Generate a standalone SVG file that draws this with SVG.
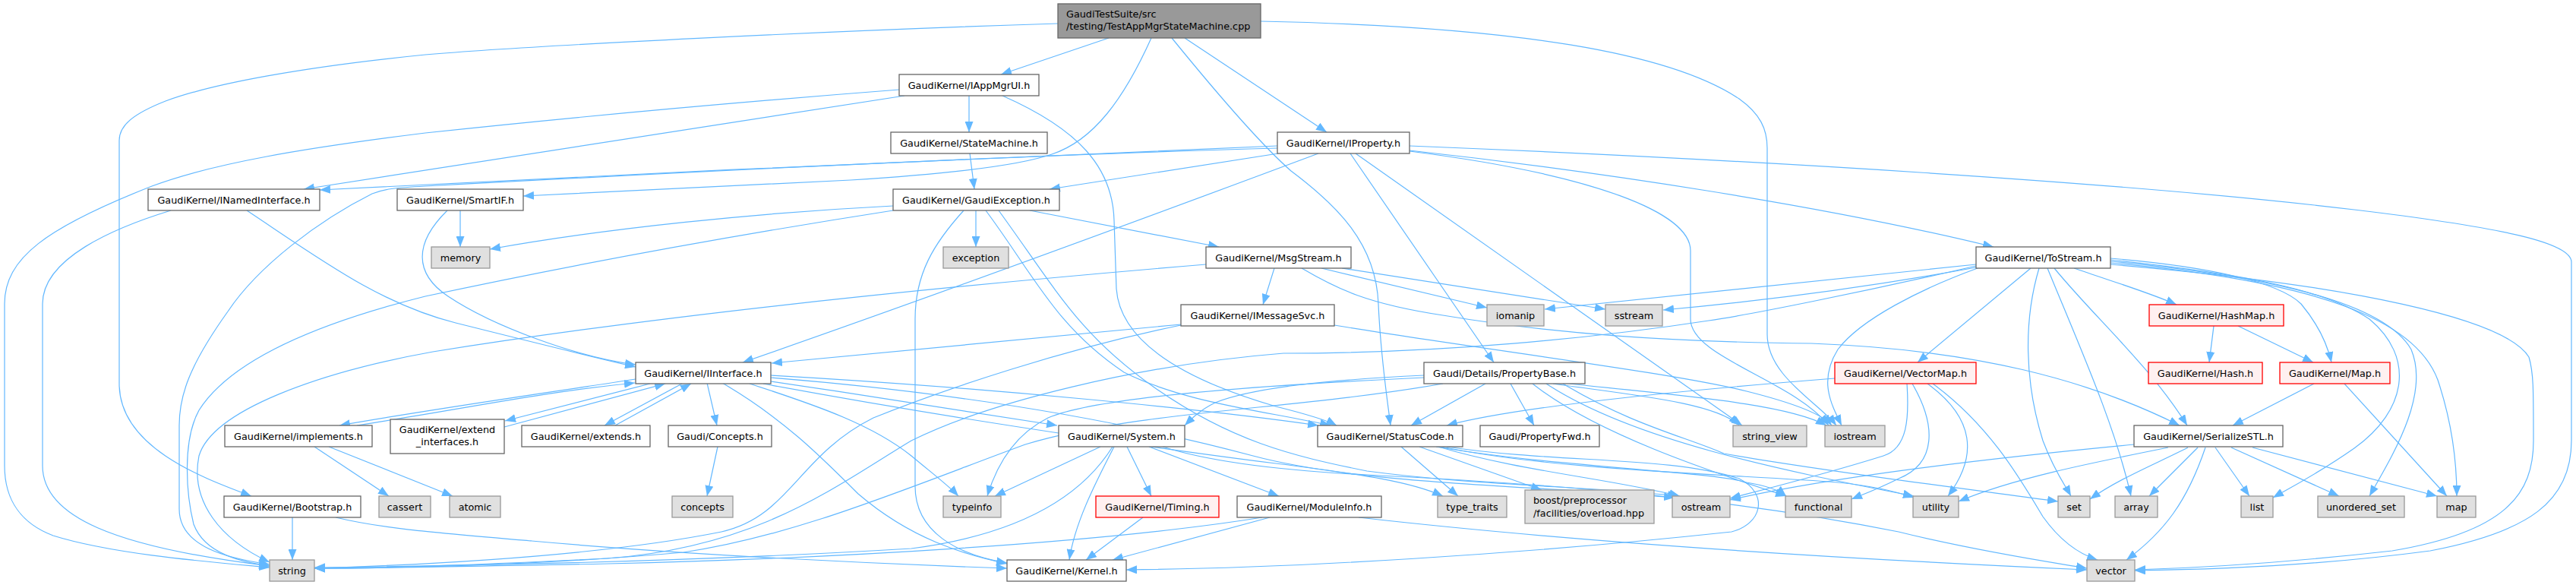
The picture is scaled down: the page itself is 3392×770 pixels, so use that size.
<svg xmlns="http://www.w3.org/2000/svg" width="3392" height="770" viewBox="0 0 3392 770">
<style>
.e{fill:none;stroke:#63b8ff;stroke-width:1.2;marker-end:url(#ah)}
.n rect{fill:#ffffff;stroke:#666666;stroke-width:1.3}
.x rect{fill:#e0e0e0;stroke:#999999;stroke-width:1.3}
.r rect{fill:#fff0f0;stroke:#ff0000;stroke-width:1.3}
.t rect{fill:#999999;stroke:#666666;stroke-width:1.3}
text{font-family:"DejaVu Sans","Liberation Sans",sans-serif;font-size:12.8px;fill:#000000}
.c{text-anchor:middle}
</style>
<defs>
<marker id="ah" viewBox="0 0 14 11" refX="14" refY="5.5" markerWidth="14" markerHeight="11" orient="auto" markerUnits="userSpaceOnUse"><path d="M0,0 L14,5.5 L0,11 z" fill="#63b8ff"/></marker>
</defs>
<rect x="0" y="0" width="3392" height="770" fill="#ffffff"/>
<g id="edges">
<path class="e" d="M1393,31 C1100,40 700,60 560,72 C400,88 280,110 218,133 C175,150 157,165 157,185 L157,505 C157,590 270,630 331,653"/>
<path class="e" d="M1460,50 L1318,98"/>
<path class="e" d="M1560,50 L1747,174"/>
<path class="e" d="M1516,50 C1480,130 1440,185 1385,203 C1330,222 1200,232 1120,237 L689,258"/>
<path class="e" d="M1543,50 C1600,120 1660,190 1700,225 C1760,270 1812,320 1815,400 C1818,470 1826,520 1831,560"/>
<path class="e" d="M1660,28 C2000,35 2200,70 2290,130 C2318,150 2327,170 2327,195 L2327,440 C2327,495 2395,530 2418,560"/>
<path class="e" d="M1191,126 L400,249"/>
<path class="e" d="M1276,126 L1276,174"/>
<path class="e" d="M1320,126 C1420,170 1465,220 1467,290 L1470,380 C1475,450 1560,500 1680,535 C1720,545 1745,552 1760,560"/>
<path class="e" d="M1184,118 C900,140 700,160 560,175 C400,195 280,215 200,245 C60,300 6,340 6,400 L6,613 C6,660 30,690 70,705 C150,730 280,740 355,747"/>
<path class="e" d="M1277,202 L1283,249"/>
<path class="e" d="M1682,192 C1400,203 800,230 421,250"/>
<path class="e" d="M1683,202 L1382,249"/>
<path class="e" d="M1736,202 C1500,290 1200,400 978,477"/>
<path class="e" d="M1778,202 L1967,477"/>
<path class="e" d="M1856,198 C2100,225 2400,270 2625,325"/>
<path class="e" d="M1682,195 C1300,205 800,232 560,245 C520,247 505,249 490,255 C420,290 340,350 300,410 C250,480 236,520 236,560 L236,670 C236,720 300,735 355,743"/>
<path class="e" d="M1856,192 C2300,210 2800,240 3100,276 C3300,300 3386,320 3386,345 L3386,580 C3386,660 3330,700 3200,725 C3050,745 2900,750 2811,751"/>
<path class="e" d="M1856,199 C2100,230 2226,280 2226,330 L2226,420 C2226,470 2360,500 2408,560"/>
<path class="e" d="M1785,202 L2294,560"/>
<path class="e" d="M325,277 C420,340 500,400 600,425 C700,450 780,470 837,483"/>
<path class="e" d="M225,277 C150,300 56,340 56,400 L56,613 C56,680 150,720 355,745"/>
<path class="e" d="M589,277 C545,320 545,360 590,390 C650,430 760,470 837,480"/>
<path class="e" d="M606,277 L606,325"/>
<path class="e" d="M1269,277 C1230,320 1205,360 1205,420 L1205,640 C1205,700 1260,730 1326,741"/>
<path class="e" d="M1356,277 L1605,325"/>
<path class="e" d="M1298,277 C1360,360 1390,430 1480,490 C1560,530 1660,540 1752,560"/>
<path class="e" d="M1315,277 C1390,380 1420,440 1520,510 C1620,580 1700,600 1800,620 C1950,640 2100,640 2210,653"/>
<path class="e" d="M1285,277 L1285,325"/>
<path class="e" d="M1176,271 C1000,280 800,300 645,328"/>
<path class="e" d="M1176,277 C900,320 700,360 560,390 C400,430 300,480 262,540 C240,580 245,650 255,690 C270,730 320,740 355,745"/>
<path class="e" d="M1678,353 L1663,401"/>
<path class="e" d="M1714,353 C1760,380 1800,400 1900,415 C2050,440 2200,450 2385,452 C2600,460 2750,500 2870,560"/>
<path class="e" d="M1740,353 L1958,405"/>
<path class="e" d="M1767,353 L2114,407"/>
<path class="e" d="M1588,348 C1300,372 900,410 570,463 C420,490 280,540 262,600 C250,660 290,710 355,740"/>
<path class="e" d="M1555,427 L1016,478"/>
<path class="e" d="M1757,428 C1950,460 2200,490 2300,515 C2360,530 2400,545 2412,560"/>
<path class="e" d="M1555,428 C1400,460 1250,510 1150,550 C1050,600 1040,680 950,700 C800,730 600,742 414,748"/>
<path class="e" d="M931,504 L944,560"/>
<path class="e" d="M951,504 C1030,550 1080,600 1130,650 C1200,710 1270,730 1326,742"/>
<path class="e" d="M1015,494 C1300,510 1600,540 1736,560"/>
<path class="e" d="M1015,502 C1150,522 1300,545 1392,560"/>
<path class="e" d="M856,505 L665,554"/>
<path class="e" d="M898,505 L796,560"/>
<path class="e" d="M837,499 C700,520 560,540 447,560"/>
<path class="e" d="M1015,497 C1300,520 1500,560 1650,600 C1800,640 2050,640 2205,655"/>
<path class="e" d="M1005,505 C1300,560 1600,600 1680,610 C1800,625 1860,635 1900,653"/>
<path class="e" d="M987,505 C1080,535 1150,560 1200,600 C1230,625 1250,640 1262,653"/>
<path class="e" d="M470,560 C600,540 720,515 836,504"/>
<path class="e" d="M414,588 L512,653"/>
<path class="e" d="M433,588 L596,653"/>
<path class="e" d="M664,562 L876,505"/>
<path class="e" d="M810,560 L910,505"/>
<path class="e" d="M945,588 L931,653"/>
<path class="e" d="M1467,588 C1440,640 1415,690 1408,737"/>
<path class="e" d="M1513,588 L1684,653"/>
<path class="e" d="M1484,588 L1516,653"/>
<path class="e" d="M1465,588 C1420,660 1330,705 1200,722 C900,740 600,745 414,747"/>
<path class="e" d="M1449,588 L1310,653"/>
<path class="e" d="M1531,588 C1600,610 1700,620 1800,625 C2100,640 2300,660 2500,700 C2600,725 2700,740 2748,748"/>
<path class="e" d="M1505,681 L1430,737"/>
<path class="e" d="M1672,681 L1465,737"/>
<path class="e" d="M1662,681 C1450,715 1100,735 800,742 C600,746 500,748 414,748"/>
<path class="e" d="M1789,681 C2000,705 2300,730 2748,750"/>
<path class="e" d="M385,681 L385,737"/>
<path class="e" d="M442,681 C500,695 560,700 700,712 C900,730 1150,742 1326,748"/>
<path class="e" d="M1989,505 L2020,560"/>
<path class="e" d="M1956,505 L1858,560"/>
<path class="e" d="M1875,494 C1750,500 1650,510 1600,530 C1580,540 1570,550 1560,560"/>
<path class="e" d="M1875,497 C1700,505 1450,520 1380,550 C1330,575 1310,620 1300,653"/>
<path class="e" d="M1900,505 C1700,540 1500,540 1350,585 C1200,640 1050,705 900,727 C700,745 500,748 414,748"/>
<path class="e" d="M2045,505 C2150,520 2260,530 2290,560"/>
<path class="e" d="M2067,505 C2200,520 2350,530 2405,560"/>
<path class="e" d="M2018,505 C2100,570 2250,620 2352,653"/>
<path class="e" d="M2036,505 C2150,580 2350,620 2520,653"/>
<path class="e" d="M2058,505 C2150,560 2220,575 2270,597 C2400,620 2600,645 2710,660"/>
<path class="e" d="M1845,588 L1920,653"/>
<path class="e" d="M1869,588 L2030,645"/>
<path class="e" d="M1894,588 C2000,620 2120,630 2212,653"/>
<path class="e" d="M1891,588 C2050,615 2250,620 2300,635 C2330,640 2345,647 2352,653"/>
<path class="e" d="M1898,588 C2050,620 2300,625 2420,635 C2470,640 2500,648 2520,655"/>
<path class="e" d="M1905,588 C2050,610 2200,600 2290,630 C2330,650 2320,690 2280,700 C2000,730 1700,748 1483,750"/>
<path class="e" d="M2416,498 C2200,515 2000,535 1905,560"/>
<path class="e" d="M2511,505 C2514,550 2512,590 2480,600 C2400,625 2320,645 2278,656"/>
<path class="e" d="M2518,505 C2550,560 2550,610 2500,630 C2470,645 2450,652 2438,657"/>
<path class="e" d="M2538,505 C2600,550 2605,600 2565,653"/>
<path class="e" d="M2545,505 C2620,560 2660,630 2690,680 C2715,715 2740,730 2762,737"/>
<path class="e" d="M2731,353 C2780,370 2830,385 2866,401"/>
<path class="e" d="M2779,340 C2900,350 3000,370 3030,400 C3055,430 3065,455 3070,477"/>
<path class="e" d="M2779,342 C2950,360 3060,380 3120,420 C3180,470 3170,540 3100,590 C3050,625 3010,645 2993,655"/>
<path class="e" d="M2779,344 C3000,365 3140,400 3175,460 C3200,520 3150,600 3120,653"/>
<path class="e" d="M2779,346 C3050,370 3180,420 3210,500 C3230,560 3235,610 3235,653"/>
<path class="e" d="M2779,348 C3100,375 3300,420 3330,470 C3336,490 3336,510 3336,580 C3336,650 3300,700 3150,725 C3000,742 2880,748 2811,750"/>
<path class="e" d="M2674,353 L2525,477"/>
<path class="e" d="M2685,353 C2665,420 2665,500 2690,580 C2705,620 2720,640 2727,653"/>
<path class="e" d="M2696,353 C2740,460 2785,560 2806,653"/>
<path class="e" d="M2705,353 C2760,420 2830,480 2880,560"/>
<path class="e" d="M2602,348 C2400,370 2200,388 2034,407"/>
<path class="e" d="M2602,352 C2450,380 2300,398 2190,408"/>
<path class="e" d="M2604,353 C2530,380 2450,420 2420,460 C2395,500 2410,530 2425,560"/>
<path class="e" d="M2602,350 C2450,385 2300,415 2250,422 C2100,445 1900,465 1690,465 C1500,480 1300,530 1200,580 C1100,640 1000,720 800,735 C600,745 500,748 414,748"/>
<path class="e" d="M2915,429 L2909,477"/>
<path class="e" d="M2947,429 L3046,477"/>
<path class="e" d="M3047,505 L2940,560"/>
<path class="e" d="M3087,505 L3222,653"/>
<path class="e" d="M2810,585 C2600,605 2400,630 2278,658"/>
<path class="e" d="M2855,589 C2750,610 2650,630 2579,660"/>
<path class="e" d="M2881,589 C2840,610 2790,630 2752,657"/>
<path class="e" d="M2894,589 L2830,653"/>
<path class="e" d="M2904,589 C2880,660 2850,700 2800,737"/>
<path class="e" d="M2917,589 L2962,653"/>
<path class="e" d="M2938,589 L3080,653"/>
<path class="e" d="M2966,589 L3209,653"/>
</g>
<g id="root" class="t"><rect x="1393" y="5" width="267" height="45"/><text x="1404" y="23">GaudiTestSuite/src</text><text x="1404" y="39">/testing/TestAppMgrStateMachine.cpp</text></g>
<g id="IAppMgrUI" class="n"><rect x="1184" y="98" width="184" height="28"/><text class="c" x="1276" y="116.5">GaudiKernel/IAppMgrUI.h</text></g>
<g id="IProperty" class="n"><rect x="1682" y="174" width="174" height="28"/><text class="c" x="1769" y="192.5">GaudiKernel/IProperty.h</text></g>
<g id="StateMachine" class="n"><rect x="1173" y="174" width="206" height="28"/><text class="c" x="1276" y="192.5">GaudiKernel/StateMachine.h</text></g>
<g id="INamedInterface" class="n"><rect x="195" y="249" width="226" height="28"/><text class="c" x="308" y="267.5">GaudiKernel/INamedInterface.h</text></g>
<g id="SmartIF" class="n"><rect x="523" y="249" width="166" height="28"/><text class="c" x="606" y="267.5">GaudiKernel/SmartIF.h</text></g>
<g id="GaudiException" class="n"><rect x="1176" y="249" width="219" height="28"/><text class="c" x="1285.5" y="267.5">GaudiKernel/GaudiException.h</text></g>
<g id="memory" class="x"><rect x="568" y="325" width="77" height="28"/><text class="c" x="606.5" y="343.5">memory</text></g>
<g id="exception" class="x"><rect x="1242" y="325" width="86" height="28"/><text class="c" x="1285" y="343.5">exception</text></g>
<g id="MsgStream" class="n"><rect x="1588" y="325" width="191" height="28"/><text class="c" x="1683.5" y="343.5">GaudiKernel/MsgStream.h</text></g>
<g id="ToStream" class="n"><rect x="2602" y="325" width="177" height="28"/><text class="c" x="2690.5" y="343.5">GaudiKernel/ToStream.h</text></g>
<g id="IMessageSvc" class="n"><rect x="1555" y="401" width="202" height="28"/><text class="c" x="1656" y="419.5">GaudiKernel/IMessageSvc.h</text></g>
<g id="iomanip" class="x"><rect x="1958" y="401" width="75" height="28"/><text class="c" x="1995.5" y="419.5">iomanip</text></g>
<g id="sstream" class="x"><rect x="2114" y="401" width="75" height="28"/><text class="c" x="2151.5" y="419.5">sstream</text></g>
<g id="HashMap" class="r"><rect x="2830" y="401" width="177" height="28"/><text class="c" x="2918.5" y="419.5">GaudiKernel/HashMap.h</text></g>
<g id="IInterface" class="n"><rect x="837" y="477" width="178" height="28"/><text class="c" x="926" y="495.5">GaudiKernel/IInterface.h</text></g>
<g id="PropertyBase" class="n"><rect x="1875" y="477" width="212" height="28"/><text class="c" x="1981" y="495.5">Gaudi/Details/PropertyBase.h</text></g>
<g id="VectorMap" class="r"><rect x="2416" y="477" width="186" height="28"/><text class="c" x="2509" y="495.5">GaudiKernel/VectorMap.h</text></g>
<g id="Hash" class="r"><rect x="2829" y="477" width="150" height="28"/><text class="c" x="2904" y="495.5">GaudiKernel/Hash.h</text></g>
<g id="Map" class="r"><rect x="3002" y="477" width="145" height="28"/><text class="c" x="3074.5" y="495.5">GaudiKernel/Map.h</text></g>
<g id="implements" class="n"><rect x="296" y="560" width="194" height="28"/><text class="c" x="393" y="578.5">GaudiKernel/implements.h</text></g>
<g id="extend_interfaces" class="n"><rect x="514" y="552" width="150" height="45"/><text class="c" x="589" y="570">GaudiKernel/extend</text><text class="c" x="589" y="586">_interfaces.h</text></g>
<g id="extends" class="n"><rect x="687" y="560" width="169" height="28"/><text class="c" x="771.5" y="578.5">GaudiKernel/extends.h</text></g>
<g id="Concepts" class="n"><rect x="880" y="560" width="136" height="28"/><text class="c" x="948" y="578.5">Gaudi/Concepts.h</text></g>
<g id="System" class="n"><rect x="1394" y="560" width="166" height="28"/><text class="c" x="1477" y="578.5">GaudiKernel/System.h</text></g>
<g id="StatusCode" class="n"><rect x="1735" y="560" width="191" height="28"/><text class="c" x="1830.5" y="578.5">GaudiKernel/StatusCode.h</text></g>
<g id="PropertyFwd" class="n"><rect x="1949" y="560" width="157" height="28"/><text class="c" x="2027.5" y="578.5">Gaudi/PropertyFwd.h</text></g>
<g id="string_view" class="x"><rect x="2282" y="560" width="97" height="28"/><text class="c" x="2330.5" y="578.5">string_view</text></g>
<g id="iostream" class="x"><rect x="2403" y="560" width="79" height="28"/><text class="c" x="2442.5" y="578.5">iostream</text></g>
<g id="SerializeSTL" class="n"><rect x="2810" y="560" width="196" height="28"/><text class="c" x="2908" y="578.5">GaudiKernel/SerializeSTL.h</text></g>
<g id="Bootstrap" class="n"><rect x="295" y="653" width="180" height="28"/><text class="c" x="385" y="671.5">GaudiKernel/Bootstrap.h</text></g>
<g id="cassert" class="x"><rect x="499" y="653" width="68" height="28"/><text class="c" x="533" y="671.5">cassert</text></g>
<g id="atomic" class="x"><rect x="592" y="653" width="67" height="28"/><text class="c" x="625.5" y="671.5">atomic</text></g>
<g id="concepts" class="x"><rect x="885" y="653" width="80" height="28"/><text class="c" x="925" y="671.5">concepts</text></g>
<g id="typeinfo" class="x"><rect x="1242" y="653" width="76" height="28"/><text class="c" x="1280" y="671.5">typeinfo</text></g>
<g id="Timing" class="r"><rect x="1443" y="653" width="162" height="28"/><text class="c" x="1524" y="671.5">GaudiKernel/Timing.h</text></g>
<g id="ModuleInfo" class="n"><rect x="1629" y="653" width="190" height="28"/><text class="c" x="1724" y="671.5">GaudiKernel/ModuleInfo.h</text></g>
<g id="type_traits" class="x"><rect x="1893" y="653" width="91" height="28"/><text class="c" x="1938.5" y="671.5">type_traits</text></g>
<g id="boost" class="x"><rect x="2008" y="645" width="170" height="44"/><text x="2019" y="663">boost/preprocessor</text><text x="2019" y="680">/facilities/overload.hpp</text></g>
<g id="ostream" class="x"><rect x="2202" y="653" width="76" height="28"/><text class="c" x="2240" y="671.5">ostream</text></g>
<g id="functional" class="x"><rect x="2351" y="653" width="87" height="28"/><text class="c" x="2394.5" y="671.5">functional</text></g>
<g id="utility" class="x"><rect x="2519" y="653" width="60" height="28"/><text class="c" x="2549" y="671.5">utility</text></g>
<g id="set" class="x"><rect x="2710" y="653" width="42" height="28"/><text class="c" x="2731" y="671.5">set</text></g>
<g id="array" class="x"><rect x="2785" y="653" width="56" height="28"/><text class="c" x="2813" y="671.5">array</text></g>
<g id="list" class="x"><rect x="2951" y="653" width="42" height="28"/><text class="c" x="2972" y="671.5">list</text></g>
<g id="unordered_set" class="x"><rect x="3052" y="653" width="114" height="28"/><text class="c" x="3109" y="671.5">unordered_set</text></g>
<g id="map" class="x"><rect x="3209" y="653" width="51" height="28"/><text class="c" x="3234.5" y="671.5">map</text></g>
<g id="string" class="x"><rect x="355" y="737" width="59" height="28"/><text class="c" x="384.5" y="755.5">string</text></g>
<g id="Kernel" class="n"><rect x="1326" y="737" width="157" height="28"/><text class="c" x="1404.5" y="755.5">GaudiKernel/Kernel.h</text></g>
<g id="vector" class="x"><rect x="2748" y="737" width="63" height="28"/><text class="c" x="2779.5" y="755.5">vector</text></g>
</svg>
